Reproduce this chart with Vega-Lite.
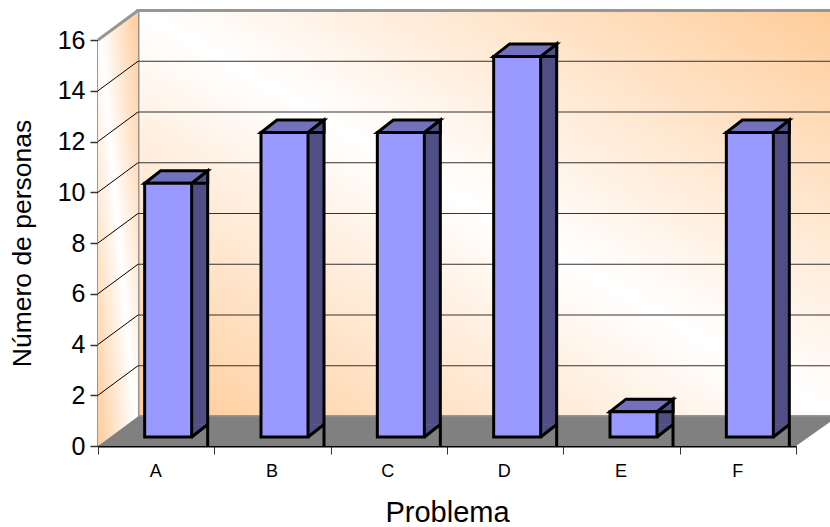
{
"$schema":"https://vega.github.io/schema/vega-lite/v6.json",
"width":698,"height":406,
"autosize":{"type":"none"},
"padding":{"left":98,"top":40,"right":34,"bottom":81},
"background":"white",
"view":{"stroke":null},
"config":{"font":"Liberation Sans"},
"datasets":{
"bars":[{"problema":"A","personas":10},{"problema":"B","personas":12},{"problema":"C","personas":12},{"problema":"D","personas":15},{"problema":"E","personas":1},{"problema":"F","personas":12}],
"ticks":[{"t":2},{"t":4},{"t":6},{"t":8},{"t":10},{"t":12},{"t":14}]
},
"data":{"name":"bars"},
"encoding":{
"x":{"field":"problema","type":"nominal","scale":{"domain":["A","B","C","D","E","F"],"paddingInner":0,"paddingOuter":0}}
},
"resolve":{"scale":{"x":"shared","y":"shared"}},
"layer":[
{"mark":{"type":"rect","xOffset":40,"x2Offset":40,"yOffset":-29.5,"y2Offset":-29.5,"stroke":"#969696","strokeWidth":3,"fill":{"gradient":"linear","x1":0,"y1":1,"x2":1,"y2":0,"stops":[{"offset":0,"color":"#FFCC99"},{"offset":0.5,"color":"#FFFFFF"},{"offset":1,"color":"#FFCC99"}]}},
 "data":{"values":[{"wall":"back"}]},
 "encoding":{"x":{"value":0},"x2":{"value":{"expr":"width"}},"y":{"value":0},"y2":{"value":{"expr":"height"}}}},
{"mark":{"type":"point","filled":true,"opacity":1,"size":4,"strokeWidth":0,"shape":"M0 0L40 -29.5L40 -435.5L0 -406Z","fill":{"gradient":"linear","x1":0,"y1":1,"x2":1,"y2":0,"stops":[{"offset":0,"color":"#FFCC99"},{"offset":0.5,"color":"#FFFFFF"},{"offset":1,"color":"#FFCC99"}]}},
 "data":{"values":[{"wall":"left"}]},
 "encoding":{"x":{"datum":"A","bandPosition":0},"y":{"datum":0,"type":"quantitative"}}},
{"mark":{"type":"point","filled":false,"opacity":1,"size":4,"strokeWidth":3,"stroke":"#969696","shape":"M0 0L40 -29.5"},
 "data":{"values":[{"t":16}]},
 "encoding":{"x":{"datum":"A","bandPosition":0},"y":{"field":"t","type":"quantitative"}}},
{"mark":{"type":"rule","xOffset":40,"x2Offset":40,"yOffset":-29.5,"stroke":"#333333","strokeWidth":1},
 "data":{"name":"ticks"},
 "encoding":{"x":{"value":0},"x2":{"value":{"expr":"width"}},"y":{"field":"t","type":"quantitative"}}},
{"mark":{"type":"point","filled":false,"opacity":1,"size":4,"strokeWidth":1,"stroke":"#000000","shape":"M0 0L40 -29.5"},
 "data":{"name":"ticks"},
 "encoding":{"x":{"datum":"A","bandPosition":0},"y":{"field":"t","type":"quantitative"}}},
{"mark":{"type":"point","filled":true,"opacity":1,"size":4,"strokeWidth":0,"fill":"#808080","shape":"M0 0L40 -29.5L740 -29.5L698 0Z"},
 "data":{"values":[{"t":0}]},
 "encoding":{"x":{"datum":"A","bandPosition":0},"y":{"field":"t","type":"quantitative"}}},
{"mark":{"type":"bar","size":16,"xOffset":43.5,"yOffset":-9,"y2Offset":-21.5,"fill":"#4F4F85"},
 "encoding":{"y":{"field":"personas","type":"quantitative","scale":{"domain":[0,16]},"axis":{"values":[0,2,4,6,8,10,12,14,16],"title":"Número de personas","titleFontSize":26.5,"titleFontWeight":"normal","titleColor":"#000","labelFontSize":25,"labelColor":"#000","labelPadding":5,"tickSize":8,"tickColor":"#333","tickWidth":1.5,"domainColor":"#333","domainWidth":2,"grid":false,"titlePadding":21}},"y2":{"datum":0}}},
{"mark":{"type":"point","filled":true,"opacity":1,"size":4,"strokeWidth":0,"fill":"#4F4F85","shape":"M0 0L16 -12.5L0 -12.5Z","xOffset":35.5,"yOffset":-9},
 "encoding":{"y":{"datum":0,"type":"quantitative"}}},
{"mark":{"type":"point","filled":false,"opacity":1,"size":4,"strokeWidth":3,"stroke":"#000","shape":"M0 0L16 -12.5","xOffset":35.5,"yOffset":-9},
 "encoding":{"y":{"datum":0,"type":"quantitative"}}},
{"mark":{"type":"rule","xOffset":51.5,"yOffset":-21.5,"strokeWidth":3,"stroke":"#000"},
 "encoding":{"y":{"field":"personas","type":"quantitative"},"y2":{"datum":0}}},
{"mark":{"type":"point","filled":true,"opacity":1,"size":4,"strokeWidth":3,"stroke":"#000","fill":"#4F4F85","shape":"M0 0L16 -12.5L16 0Z","xOffset":35.5,"yOffset":-9},
 "encoding":{"y":{"field":"personas","type":"quantitative"}}},
{"mark":{"type":"point","filled":true,"opacity":1,"size":4,"strokeWidth":3,"stroke":"#000","fill":"#7272BC","strokeJoin":"miter","shape":"M0 0L-47 0L-31 -12.5L16 -12.5Z","xOffset":35.5,"yOffset":-9},
 "encoding":{"y":{"field":"personas","type":"quantitative"}}},
{"mark":{"type":"bar","size":47,"xOffset":12,"yOffset":-9,"y2Offset":-9,"fill":"#9999FF","stroke":"#000","strokeWidth":3},
 "encoding":{"y":{"field":"personas","type":"quantitative"},"y2":{"datum":0},
 "x":{"field":"problema","type":"nominal","axis":{"title":"Problema","titleFontSize":29,"titleFontWeight":"normal","titleColor":"#000","titlePadding":18,"labelAngle":0,"labelFontSize":18,"labelColor":"#000","labelPadding":17,"labelOffset":5,"tickBand":"extent","tickSize":8,"tickColor":"#333","domainColor":"#000","domainWidth":2}}}}
]
}
